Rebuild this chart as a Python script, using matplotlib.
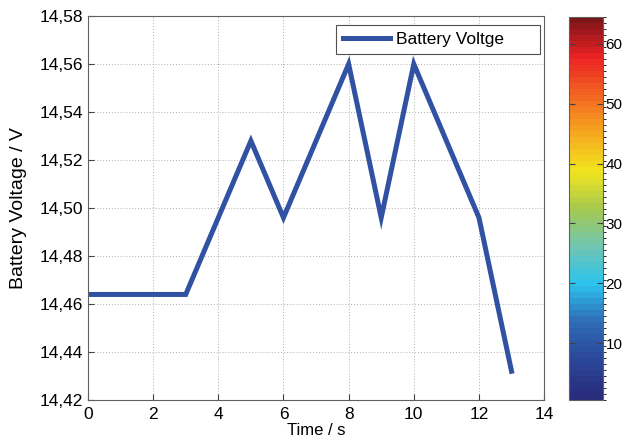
import numpy as np
import matplotlib
matplotlib.use("Agg")
import matplotlib.pyplot as plt
from matplotlib.colors import LinearSegmentedColormap, BoundaryNorm
from matplotlib.ticker import FuncFormatter
import matplotlib.cm as cm

plt.rcParams['font.family'] = ['Liberation Sans', 'DejaVu Sans']

# ------------- Data ------------- #
time_s = [0, 1, 2, 3, 4, 5, 6, 7, 8, 9, 10, 11, 12, 13]
voltage = [14.464, 14.464, 14.464, 14.464, 14.496, 14.528, 14.496,
           14.528, 14.560, 14.496, 14.560, 14.528, 14.496, 14.432]

x_ticks = [0, 2, 4, 6, 8, 10, 12, 14]
y_ticks = [14.42, 14.44, 14.46, 14.48, 14.50, 14.52, 14.54, 14.56, 14.58]
cbar_ticks = [10, 20, 30, 40, 50, 60]

# muted jet-like colormap as in the MATLAB export
jet_colors = ["#2a2c7c", "#2b4699", "#2f6db6", "#2cc3ee", "#72c6b0",
              "#a6c84e", "#f1e51e", "#f6a81f", "#f26622", "#ed2224", "#7e1518"]
cmap = LinearSegmentedColormap.from_list("mjet", jet_colors, N=64)

fig = plt.figure(figsize=(6.24, 4.46), dpi=100)
ax = fig.add_axes([0.141, 0.103, 0.731, 0.861])

ax.plot(time_s, voltage, color="#3151a3", lw=3.6, label="Battery Voltge      ",
        solid_joinstyle="miter")

ax.set_xlim(0, 14)
ax.set_ylim(14.42, 14.58)
ax.set_xticks(x_ticks)
ax.set_yticks(y_ticks)
ax.yaxis.set_major_formatter(FuncFormatter(lambda v, p: f"{v:.2f}".replace(".", ",")))
ax.grid(True, linestyle=(0, (1, 2)), color="#b0b0b0", lw=0.7)
ax.tick_params(labelsize=12.5, direction="in", length=4, color="#404040")
ax.tick_params(axis="x", pad=5)
for s in ax.spines.values():
    s.set_color("#606060")
    s.set_linewidth(0.8)

ax.set_xlabel("Time / s", fontsize=12, labelpad=1)
ax.set_ylabel("Battery Voltage / V", fontsize=14, labelpad=9)

leg = ax.legend(loc="upper right", fontsize=12.5, fancybox=False, framealpha=1,
                edgecolor="#505050", handlelength=2.7, handletextpad=0.35,
                borderpad=0.4, borderaxespad=0, bbox_to_anchor=(0.992, 0.977))
leg.get_frame().set_linewidth(0.8)

# colorbar
cax = fig.add_axes([0.912, 0.103, 0.054, 0.859])
norm = BoundaryNorm(np.arange(0.5, 65.5, 1), 64)
sm = cm.ScalarMappable(norm=norm, cmap=cmap)
cb = fig.colorbar(sm, cax=cax, ticks=cbar_ticks)
cb.ax.tick_params(labelsize=11, direction="in", length=4, pad=2,
                  left=True, right=True, color="#404040")
cb.outline.set_edgecolor("#606060")
cb.outline.set_linewidth(0.8)

fig.savefig("out.png", dpi=100)
